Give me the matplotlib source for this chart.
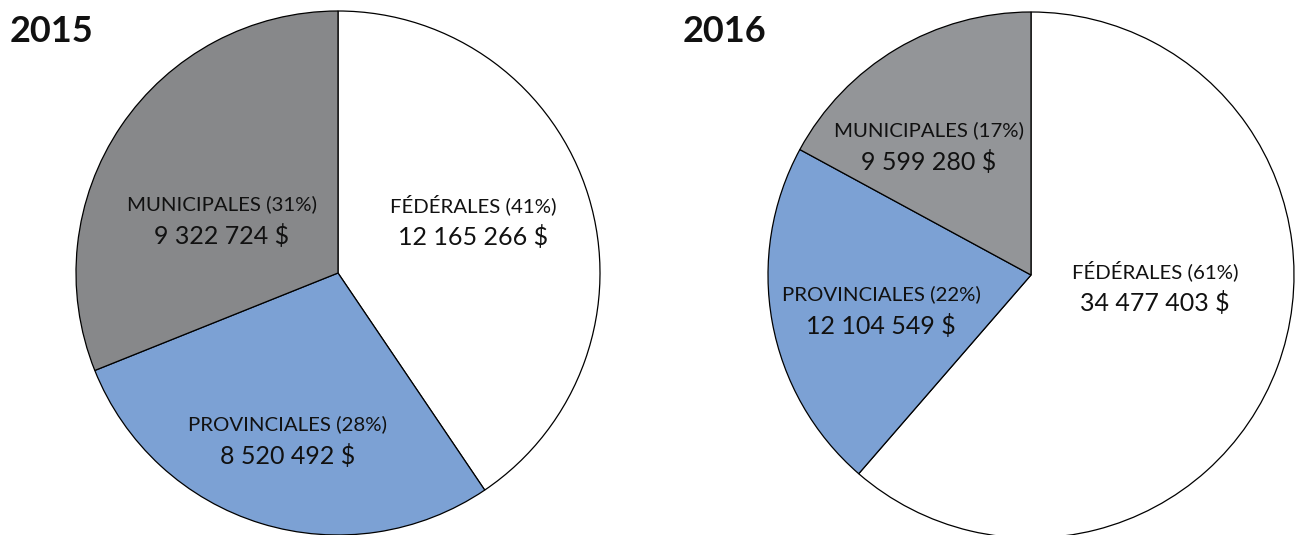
import matplotlib
matplotlib.use("Agg")
import matplotlib.pyplot as plt

plt.rcParams['font.family'] = ['Lato', 'DejaVu Sans']

categories = ["FÉDÉRALES", "PROVINCIALES", "MUNICIPALES"]
years = ["2015", "2016"]
values_2015 = [12165266, 8520492, 9322724]
values_2016 = [34477403, 12104549, 9599280]

colors_2015 = ["#ffffff", "#7ca1d4", "#87888a"]
colors_2016 = ["#ffffff", "#7ca1d4", "#939598"]

W, H = 1295, 535
fig = plt.figure(figsize=(W / 100, H / 100), dpi=100)
ax = fig.add_axes([0, 0, 1, 1])

def fmt(v):
    return f"{v:,}".replace(",", " ") + " $"

# layout: pie centres/radii and label anchors in pixel coords (y from top)
layouts = [
    dict(center=(338, 273), r=262, colors=colors_2015, values=values_2015,
         title_xy=(10, 32),
         label_xy=[(473, 205), (288, 424), (222, 204)]),
    dict(center=(1031, 275), r=263, colors=colors_2016, values=values_2016,
         title_xy=(683, 32),
         label_xy=[(1155, 271), (881, 294), (929, 130)]),
]

for year, lay in zip(years, layouts):
    cx, cy = lay["center"]
    vals = lay["values"]
    ax.pie(vals, colors=lay["colors"], startangle=90, counterclock=False,
           center=(cx, H - cy), radius=lay["r"], frame=True,
           wedgeprops=dict(edgecolor="black", linewidth=0.9))
    total = sum(vals)
    for cat, v, (lx, ly) in zip(categories, vals, lay["label_xy"]):
        pct = round(100 * v / total)
        ax.text(lx, H - ly, f"{cat} ({pct}%)", ha="center", va="center",
                fontsize=14.7, color="#111111")
        ax.text(lx, H - ly - 32, fmt(v), ha="center", va="center",
                fontsize=18, color="#111111")
    tx, ty = lay["title_xy"]
    ax.text(tx, H - ty, year, ha="left", va="center", fontsize=26,
            fontweight="bold", color="#111111")

ax.set_xlim(0, W)
ax.set_ylim(0, H)
ax.set_aspect("equal")
ax.axis("off")

fig.savefig("out.png", dpi=100)
